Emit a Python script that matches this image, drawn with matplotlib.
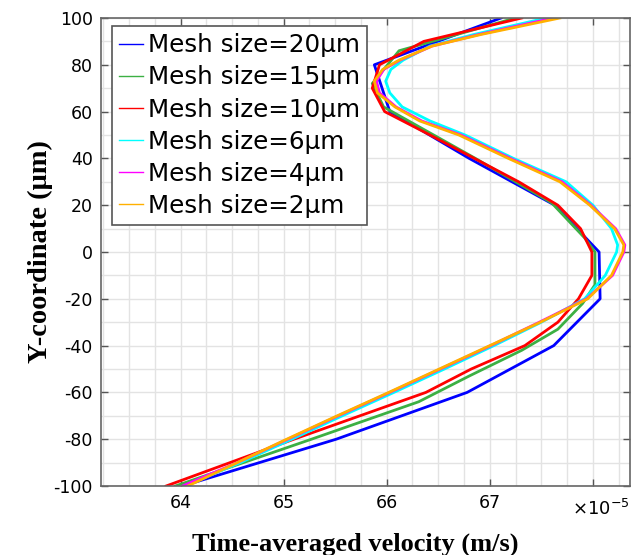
import numpy as np
import matplotlib.pyplot as plt
from matplotlib.ticker import MultipleLocator, FixedLocator, FixedFormatter

plt.rcParams['axes.unicode_minus'] = False

# velocity values in units of 1e-5 m/s, y in um
y20 = [100, 80, 60, 40, 20, 0, -20, -40, -60, -80, -100]
v20 = [67.11, 65.88, 66.03, 66.80, 67.63, 68.06, 68.07, 67.62, 66.78, 65.51, 64.02]

y15 = [100, 86, 72, 62, 40, 21, 6, 0, -14, -22, -33, -42, -53, -64, -80, -100]
v15 = [67.25, 66.12, 65.86, 65.97, 66.86, 67.60, 67.92, 68.02, 68.02, 67.90, 67.66, 67.31, 66.80, 66.31, 65.27, 63.95]

y10 = [100, 90, 80, 70, 60, 50, 40, 30, 20, 10, 0, -10, -20, -30, -40, -50, -60, -70, -80, -90, -100]
v10 = [67.31, 66.36, 65.93, 65.86, 65.98, 66.42, 66.85, 67.28, 67.66, 67.88, 67.99, 67.99, 67.86, 67.66, 67.34, 66.82, 66.38, 65.74, 65.10, 64.48, 63.86]

y_fine = [100, 93, 88, 82, 78, 73, 68, 62, 56, 50, 40, 30, 20, 10, 3, 0, -10, -20, -30, -40, -50, -60, -70, -80, -90, -100]
v6 = [67.55, 66.85, 66.42, 66.16, 66.04, 65.99, 66.03, 66.15, 66.42, 66.76, 67.23, 67.74, 68.00, 68.18, 68.24, 68.23, 68.12, 67.92, 67.50, 67.04, 66.56, 66.07, 65.57, 65.08, 64.58, 64.04]
v4 = [67.62, 66.90, 66.44, 66.13, 65.97, 65.90, 65.93, 66.09, 66.34, 66.72, 67.20, 67.70, 67.98, 68.22, 68.31, 68.30, 68.19, 67.94, 67.48, 67.01, 66.52, 66.03, 65.53, 65.04, 64.55, 64.02]
v2 = [67.68, 66.92, 66.44, 66.12, 65.96, 65.88, 65.91, 66.08, 66.32, 66.70, 67.18, 67.68, 67.97, 68.21, 68.30, 68.29, 68.18, 67.95, 67.49, 67.00, 66.51, 66.02, 65.52, 65.03, 64.55, 64.07]

labels = ['Mesh size=20μm', 'Mesh size=15μm', 'Mesh size=10μm',
          'Mesh size=6μm', 'Mesh size=4μm', 'Mesh size=2μm']
colors = ['#0000ff', '#3cb043', '#ff0000', '#00ffff', '#ff00ff', '#ffb000']

x_ticks = [64, 65, 66, 67, 68]
x_ticklabels = ['64', '65', '66', '67', '']

fig = plt.figure(figsize=(6.36, 5.55), dpi=100)
ax = fig.add_axes([0.159, 0.1243, 0.8316, 0.8433])

series = [(v20, y20), (v15, y15), (v10, y10), (v6, y_fine), (v4, y_fine), (v2, y_fine)]
for (v, y), c, lab in zip(series, colors, labels):
    ax.plot(v, y, color=c, lw=2.0, label=lab)

ax.set_xlim(63.23, 68.36)
ax.set_ylim(-100, 100)
ax.xaxis.set_major_locator(FixedLocator(x_ticks))
ax.xaxis.set_major_formatter(FixedFormatter(x_ticklabels))
ax.xaxis.set_minor_locator(MultipleLocator(0.25))
ax.yaxis.set_major_locator(MultipleLocator(20))
ax.yaxis.set_minor_locator(MultipleLocator(10))
ax.grid(True, which='both', color='#e3e3e3', lw=1.0)
ax.set_axisbelow(True)
ax.tick_params(which='major', direction='in', length=5, width=1, color='#555555',
               top=True, right=True, labelsize=12.5, pad=6)
ax.tick_params(which='minor', length=0)
for s in ax.spines.values():
    s.set_color('#666666')
    s.set_linewidth(1.2)

ax.text(0.944, -0.048, r'$\times10^{-5}$', transform=ax.transAxes, ha='center', va='center', fontsize=13)

ax.set_xlabel('Time-averaged velocity (m/s)', family='Liberation Serif', weight='bold', fontsize=19, labelpad=12)
ax.xaxis.set_label_coords(0.48, -0.1)
ax.set_ylabel('Y-coordinate (μm)', family='Liberation Serif', weight='bold', fontsize=20.5, labelpad=0)

leg = ax.legend(loc='upper left', fontsize=17.75, fancybox=False, edgecolor='#555555',
                handlelength=0.95, handletextpad=0.22, borderpad=0.3, labelspacing=0.33,
                bbox_to_anchor=(0.02, 0.983), borderaxespad=0.0, framealpha=1)
leg.get_frame().set_linewidth(1.2)
for h in leg.get_lines():
    h.set_linewidth(1.0)

fig.savefig('out.png', dpi=100)
